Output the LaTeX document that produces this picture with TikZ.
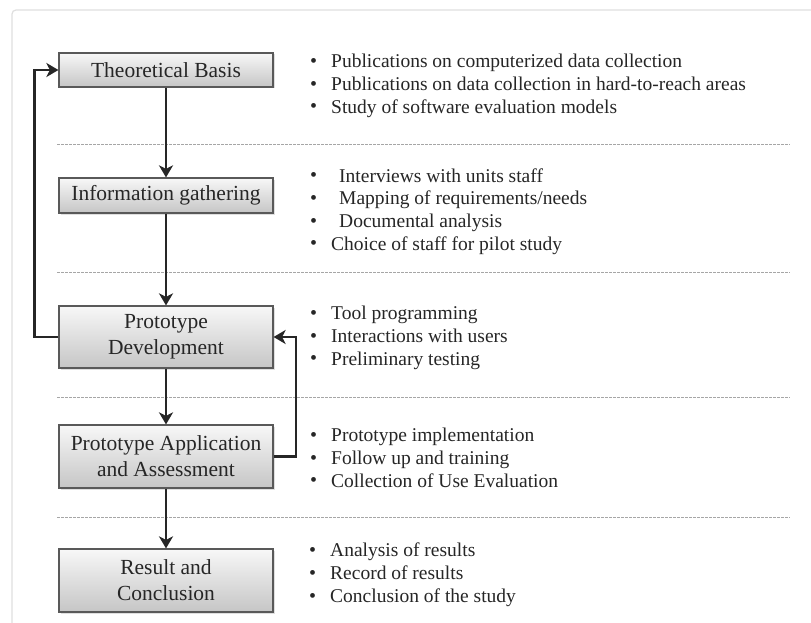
\documentclass[tikz,border=0pt]{standalone}
\usepackage{fontspec}
\setmainfont{Liberation Serif}
\usetikzlibrary{arrows.meta,shadows}

\tikzset{
  stage/.style={draw=black!65, line width=1.2pt, top color=gray!6, bottom color=gray!45,
    minimum width=214pt, inner sep=2pt, align=center, font=\fontsize{21.5}{26}\selectfont,
    text=black!85,
    drop shadow={opacity=0.25, shadow xshift=1.5pt, shadow yshift=-1.5pt}},
  flow/.style={line width=2.2pt, black!85, -{Stealth[length=12pt,width=14pt,inset=3.5pt]}},
  items/.style={anchor=west, align=left, inner sep=0pt, text=black!85,
    font=\fontsize{19.5}{22.8}\selectfont},
  divider/.style={gray!70, line width=1pt, dash pattern=on 2.5pt off 1.5pt},
}
\newcommand{\itm}[1][21pt]{\makebox[#1][l]{\raisebox{0.5pt}{\fontsize{20}{20}\selectfont\textbullet}}}

\begin{document}
\begin{tikzpicture}[x=1pt,y=-1pt]
\useasboundingbox (0,0) rectangle (811,623);
\clip (0,0) rectangle (811,623);
\fill[white] (0,0) rectangle (811,623);

% outer frame
\draw[gray!25, line width=1.2pt, rounded corners=4pt] (12,10) rectangle (860,680);

% section dividers
\foreach \yy in {145,272,397,517}
  \draw[divider] (57,\yy) -- (790,\yy);

% stages
\node[stage, minimum height=34pt] (tb) at (166,70) {Theoretical Basis};
\node[stage, minimum height=35pt] (ig) at (166,195.5) {Information gathering};
\node[stage, minimum height=62pt] (pd) at (166,337) {Prototype\\Development};
\node[stage, minimum height=63pt] (pa) at (166,456.5) {Prototype Application\\and Assessment};
\node[stage, minimum height=63pt] (rc) at (166,580.5) {Result and\\Conclusion};

% main flow
\draw[flow] (tb) -- (ig);
\draw[flow] (ig) -- (pd);
\draw[flow] (pd) -- (pa);
\draw[flow] (pa) -- (rc);

% feedback loops
\draw[flow] (pd.west) -- ++(-24,0) |- (tb.west);
\draw[flow] (pa.east) -- ++(22,0) |- (pd.east);

% activities of each stage
\node[items] (tbi) at (310,86) {\itm Publications on computerized data collection\\
  \itm Publications on data collection in hard-to-reach areas\\
  \itm Study of software evaluation models};
\node[items] (igi) at (310,211.5) {\itm[29pt]Interviews with units staff\\
  \itm[29pt]Mapping of requirements/needs\\
  \itm[29pt]Documental analysis\\
  \itm Choice of staff for pilot study};
\node[items] (pdi) at (310,338) {\itm Tool programming\\
  \itm Interactions with users\\
  \itm Preliminary testing};
\node[items] (pai) at (310,458) {\itm Prototype implementation\\
  \itm Follow up and training\\
  \itm Collection of Use Evaluation};
\node[items] (rci) at (309,575) {\itm Analysis of results\\
  \itm Record of results\\
  \itm Conclusion of the study};
\end{tikzpicture}
\end{document}
